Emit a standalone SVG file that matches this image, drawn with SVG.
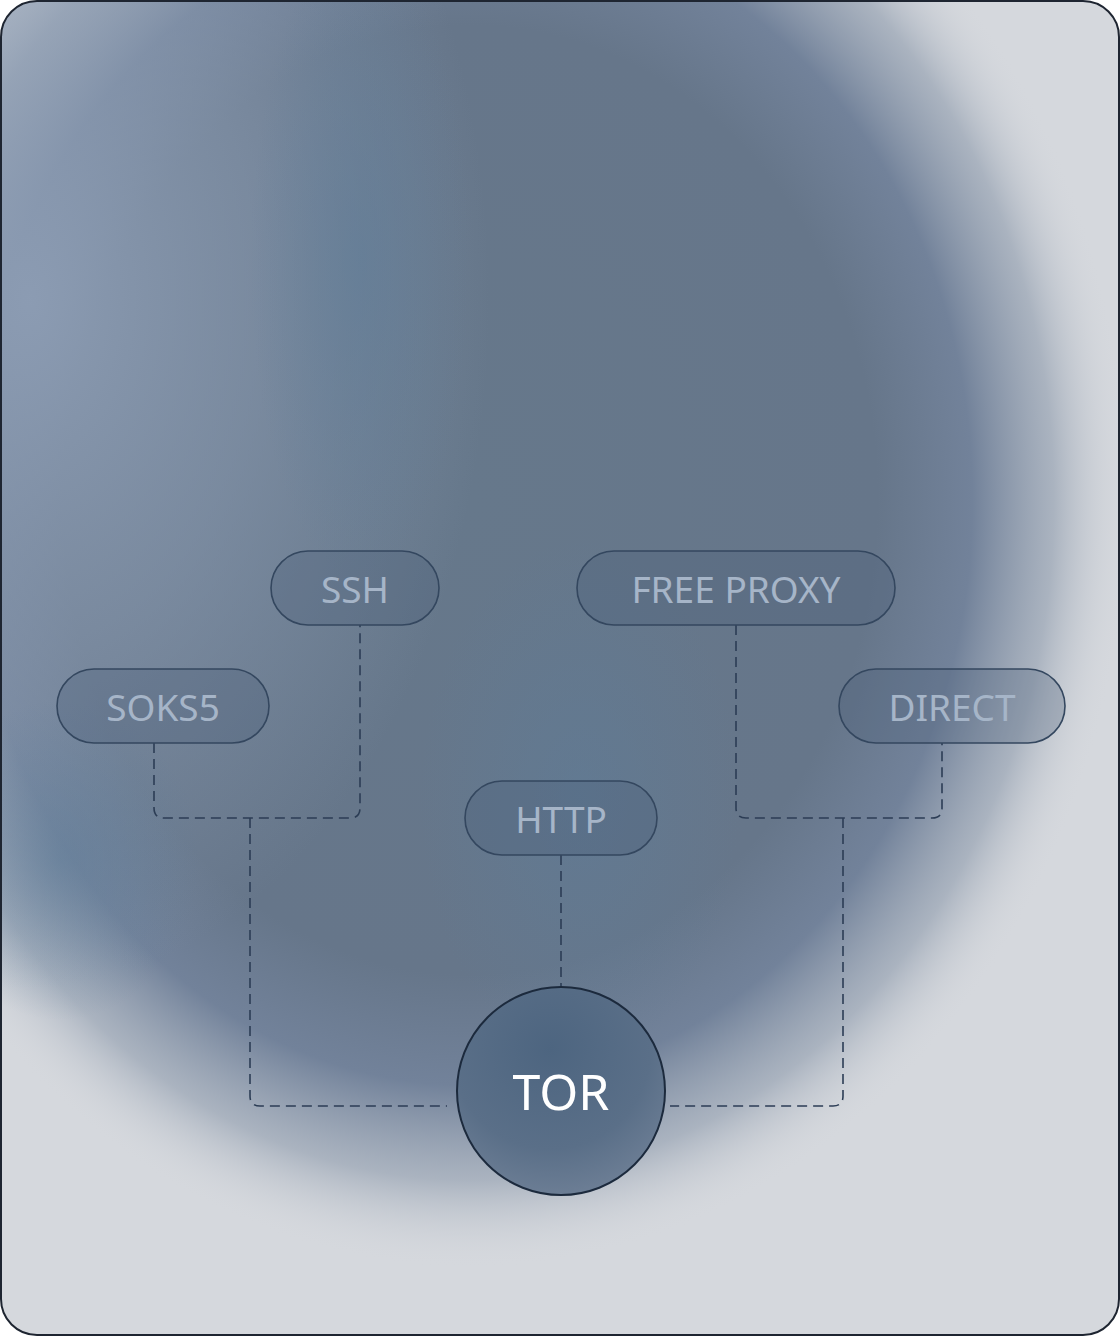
<svg xmlns="http://www.w3.org/2000/svg" width="1120" height="1336" viewBox="0 0 1120 1336">
<defs>
<clipPath id="frame"><rect x="1" y="1" width="1118" height="1334" rx="36"/></clipPath>
<radialGradient id="bgDark" cx="470" cy="500" r="700" gradientUnits="userSpaceOnUse" gradientTransform="translate(470 500) scale(0.97 1.13) translate(-470 -500)">
<stop offset="0" stop-color="#66788b"/>
<stop offset="0.6" stop-color="#66768a"/>
<stop offset="0.74" stop-color="#72829a"/>
<stop offset="0.86" stop-color="#9ca7b6" stop-opacity="0.75"/>
<stop offset="0.97" stop-color="#d4d7dc" stop-opacity="0"/>
</radialGradient>
<radialGradient id="leftBlue" cx="30" cy="300" r="460" gradientUnits="userSpaceOnUse" gradientTransform="translate(30 300) scale(1 1.5) translate(-30 -300)">
<stop offset="0" stop-color="#8d9db4" stop-opacity="0.95"/>
<stop offset="0.5" stop-color="#8a9ab0" stop-opacity="0.55"/>
<stop offset="1" stop-color="#8a9ab0" stop-opacity="0"/>
</radialGradient>
<radialGradient id="blueSpot" cx="0.5" cy="0.5" r="0.5">
<stop offset="0" stop-color="#5e7c98" stop-opacity="0.55"/>
<stop offset="1" stop-color="#5e7c98" stop-opacity="0"/>
</radialGradient>
<radialGradient id="torFill" cx="0.45" cy="0.3" r="0.8">
<stop offset="0" stop-color="#4d6580"/>
<stop offset="0.6" stop-color="#5a6f88"/>
<stop offset="1" stop-color="#74849a"/>
</radialGradient>
<style>
.pill{fill:#4a5d78;fill-opacity:0.3;stroke:#34475f;stroke-width:1.6}
.lbl{font-family:"Noto Sans","DejaVu Sans",sans-serif;font-size:37px;fill:#a6b5c8;text-anchor:middle;dominant-baseline:central}
.conn{fill:none;stroke:#2c3d55;stroke-width:1.6;stroke-dasharray:10 6}
</style>
</defs>
<g id="background" clip-path="url(#frame)">
<rect x="0" y="0" width="1120" height="1336" fill="#d5d8dd"/>
<rect x="0" y="0" width="1120" height="1336" fill="url(#bgDark)"/>
<rect x="0" y="0" width="700" height="1336" fill="url(#leftBlue)"/>
<ellipse cx="360" cy="260" rx="110" ry="320" fill="url(#blueSpot)"/>
<ellipse cx="580" cy="800" rx="160" ry="260" fill="url(#blueSpot)"/>
<ellipse cx="60" cy="860" rx="140" ry="160" fill="url(#blueSpot)"/>
</g>
<rect x="1" y="1" width="1118" height="1334" rx="36" fill="none" stroke="#1e2531" stroke-width="2"/>
<g id="connectors">
<path class="conn" d="M154 743 V808 Q154 818 164 818 H350 Q360 818 360 808 V625"/>
<path class="conn" d="M250 818 V1096 Q250 1106 260 1106 H447"/>
<path class="conn" d="M561 855 V987"/>
<path class="conn" d="M736 625 V808 Q736 818 746 818 H932 Q942 818 942 808 V743"/>
<path class="conn" d="M843 818 V1096 Q843 1106 833 1106 H670"/>
</g>
<g id="node-ssh"><rect class="pill" x="271" y="551" width="168" height="74" rx="37"/><text class="lbl" x="355" y="588">SSH</text></g>
<g id="node-freeproxy"><rect class="pill" x="577" y="551" width="318" height="74" rx="37"/><text class="lbl" x="736" y="588">FREE PROXY</text></g>
<g id="node-soks5"><rect class="pill" x="57" y="669" width="212" height="74" rx="37"/><text class="lbl" x="163" y="706">SOKS5</text></g>
<g id="node-direct"><rect class="pill" x="839" y="669" width="226" height="74" rx="37"/><text class="lbl" x="952" y="706">DIRECT</text></g>
<g id="node-http"><rect class="pill" x="465" y="781" width="192" height="74" rx="37"/><text class="lbl" x="561" y="818">HTTP</text></g>
<g id="node-tor"><circle cx="561" cy="1091" r="104" fill="url(#torFill)" stroke="#1c2a3d" stroke-width="2"/><text x="561" y="1091" font-family="'Noto Sans','DejaVu Sans',sans-serif" font-size="50" fill="#ffffff" text-anchor="middle" dominant-baseline="central">TOR</text></g>
</svg>
